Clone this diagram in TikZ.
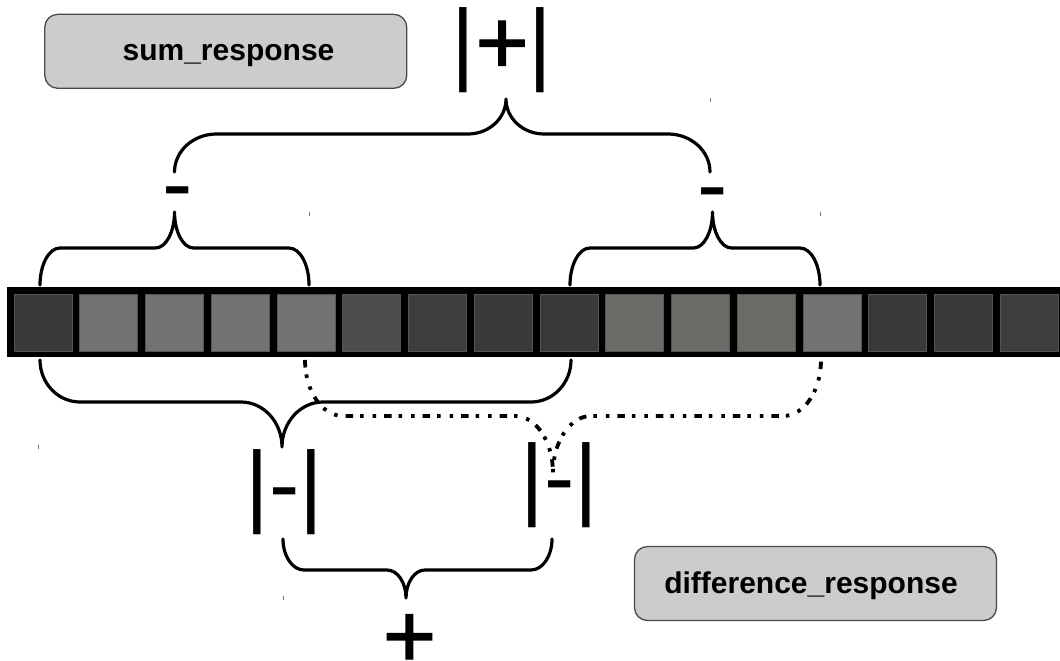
\documentclass[tikz,border=0pt]{standalone}
\usepackage{fontspec}
\setmainfont{Liberation Sans}
\newfontfamily\plusfont[FakeBold=1.6]{Liberation Sans}
\definecolor{boxfill}{HTML}{CCCCCC}
\definecolor{boxedge}{HTML}{4A4A4A}
\definecolor{cdark}{HTML}{383A37}
\definecolor{cdarkb}{HTML}{3C3E3B}
\definecolor{cmid}{HTML}{4B4D4A}
\definecolor{clight}{HTML}{717370}
\definecolor{clightb}{HTML}{6A6C68}
\definecolor{celledge}{HTML}{555555}
% args: style, xl, xr, ye, xt, yt, yh, a, b
\newcommand{\mybrace}[9]{%
 \draw[#1] (#2,#4) .. controls (#2,{#7+0.448*(#4-#7)}) and ({#2+0.448*#8},#7) .. ({#2+#8},#7)
 -- ({#5-#9},#7) .. controls ({#5-0.448*#9},#7) and (#5,{#6+0.552*(#7-#6)}) .. (#5,#6)
 .. controls (#5,{#6+0.552*(#7-#6)}) and ({#5+0.448*#9},#7) .. ({#5+#9},#7)
 -- ({#3-#8},#7) .. controls ({#3-0.448*#8},#7) and (#3,{#7+0.448*(#4-#7)}) .. (#3,#4);}
\tikzset{
 bracestroke/.style={line width=3.2pt, line cap=round, line join=round},
 dotstroke/.style={line width=3.8pt, line cap=butt, dash pattern=on 7.5pt off 7pt on 3.5pt off 9pt on 3.5pt off 8pt},
 sym/.style={inner sep=0pt, outer sep=0pt, font=\fontsize{91}{91}\selectfont},
 labelbox/.style={draw=boxedge, fill=boxfill, rounded corners=13pt, line width=1.3pt, minimum width=362pt, minimum height=74pt, inner sep=0pt},
 labeltext/.style={inner sep=0pt, anchor=base, font=\fontsize{30}{30}\selectfont\bfseries},
 cellbox/.style={draw=celledge, line width=0.7pt},
 tickmark/.style={draw=black!55, line width=1pt},
}
\begin{document}
\begin{tikzpicture}[x=1pt,y=-1pt]
\useasboundingbox (0,0) rectangle (1060,661);
\fill[white] (0,0) rectangle (1060,661);
% pixel strip
\fill[black] (7,287) rectangle (1062,357);
\foreach \i/\c in {0/cdark,1/clight,2/clight,3/clight,4/clight,5/cmid,6/cdarkb,7/cdark,8/cdark,9/clightb,10/clightb,11/clightb,12/clight,13/cdark,14/cdark,15/cdarkb}{
  \filldraw[cellbox, fill=\c] ({14+65.75*\i},294) rectangle ++(58,57);
}
% label boxes
\node[labelbox] (sumbox) at (225.8,51.3) {};
\node[labeltext] (sumtext) at (228.5,61) {sum\_response};
\node[labelbox] (diffbox) at (815.5,583.5) {};
\node[labeltext] (difftext) at (811,593.3) {difference\_response};
% symbols
\node[sym, anchor=base west] (plusabs) at (451.9,73.5) {|{\plusfont +}|};
\node[sym, anchor=base] (minusL) at (177.5,214.7) {-};
\node[sym, anchor=base] (minusR) at (713,215.2) {-};
\node[sym, anchor=base west] (absL) at (245.6,515.5) {|-|};
\node[sym, anchor=base west] (absR) at (520.8,508) {|-|};
\node[sym, anchor=base] (plusB) at (409.5,667) {\plusfont +};
% braces
\mybrace{bracestroke}{40}{309}{285}{174.5}{212}{248}{20}{19}
\mybrace{bracestroke}{570}{820}{285}{712.5}{212}{248}{20}{19}
\mybrace{bracestroke}{174.5}{710}{172}{506}{99}{134}{42}{38}
\mybrace{bracestroke}{40}{571}{360}{282}{447}{402}{40}{41}
\mybrace{dotstroke}{305}{821}{360}{553}{473}{416}{38}{38}
\mybrace{bracestroke}{283}{552}{539}{406}{598}{570}{21}{19}
% stray marks
\draw[tickmark] (309.5,211.5) -- (309.5,215.5);
\draw[tickmark] (820,211.5) -- (820,215.5);
\draw[tickmark] (710,98) -- (710,102);
\draw[tickmark] (38.5,445) -- (38.5,449);
\draw[tickmark] (283,596) -- (283,600);
\end{tikzpicture}
\end{document}
